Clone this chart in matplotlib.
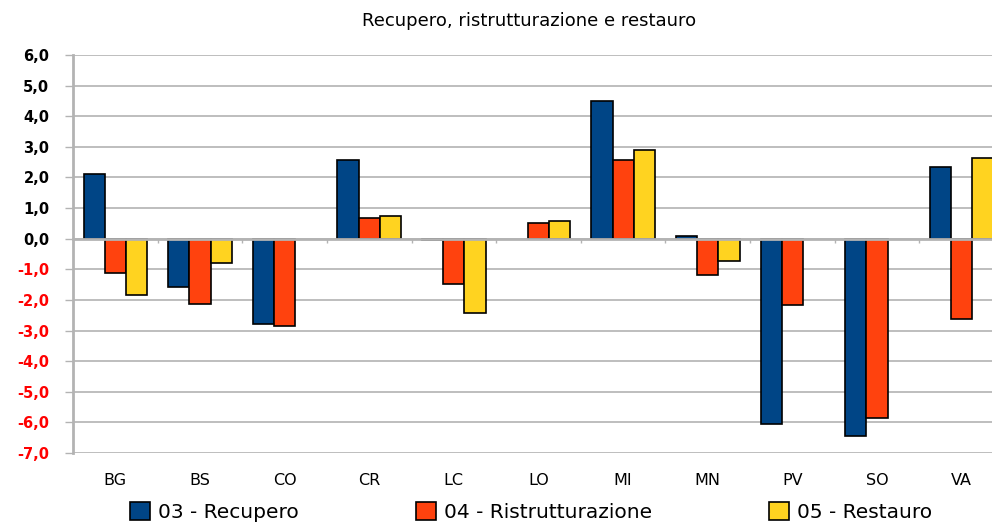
import numpy as np
import matplotlib
matplotlib.use("Agg")
import matplotlib.pyplot as plt
from matplotlib.ticker import FuncFormatter, FixedLocator

# Variazioni per provincia
PROVINCE = ["BG", "BS", "CO", "CR", "LC", "LO", "MI", "MN", "PV", "SO", "VA"]
RECUPERO = [2.12, -1.57, -2.80, 2.58, -0.05, 0.0, 4.51, 0.08, -6.06, -6.46, 2.33]
RISTRUTTURAZIONE = [-1.11, -2.13, -2.85, 0.66, -1.48, 0.50, 2.58, -1.17, -2.16, -5.85, -2.63]
RESTAURO = [-1.85, -0.80, 0.0, 0.75, -2.43, 0.57, 2.89, -0.72, 0.0, 0.0, 2.64]
SERIE = ["03 - Recupero", "04 - Ristrutturazione", "05 - Restauro"]
COLORI = ["#004586", "#ff420e", "#ffd320"]
GRIGIO = "#b3b3b3"

fig = plt.figure(figsize=(9.92, 5.24), dpi=100)
fig.patch.set_facecolor("white")
ax = fig.add_axes([0.0736, 0.1355, 0.9385, 0.7595])

x = np.arange(len(PROVINCE))
w = 0.25
handles = []
for k, (vals, col) in enumerate(zip([RECUPERO, RISTRUTTURAZIONE, RESTAURO], COLORI)):
    b = ax.bar(x + (k - 1) * w, vals, width=w, color=col, edgecolor="black",
               linewidth=1.2, zorder=3, label=SERIE[k])
    # nessun bordo per i valori nulli
    for rect, v in zip(b, vals):
        if v == 0:
            rect.set_edgecolor("none")
    handles.append(b)

ax.set_xlim(-0.5, len(PROVINCE) - 0.5)
ax.set_ylim(-7, 6)
ax.set_yticks(np.arange(-7, 7, 1))
ax.yaxis.set_major_formatter(FuncFormatter(lambda v, p: f"{v:.1f}".replace(".", ",")))
ax.grid(True, axis="y", color=GRIGIO, linewidth=1.2, zorder=0)
ax.set_axisbelow(True)

ax.spines["top"].set_visible(False)
ax.spines["right"].set_visible(False)
ax.spines["left"].set_color(GRIGIO)
ax.spines["left"].set_linewidth(2)
ax.spines["bottom"].set_position(("data", 0))
ax.spines["bottom"].set_color(GRIGIO)
ax.spines["bottom"].set_linewidth(2)
ax.spines["bottom"].set_zorder(4)

ax.tick_params(axis="y", direction="out", length=6, width=1, color=GRIGIO, pad=11,
               labelsize=10.5)
for lab, v in zip(ax.get_yticklabels(), ax.get_yticks()):
    lab.set_fontweight("bold")
    lab.set_color("red" if v < 0 else "black")

# tacche tra le categorie sulla linea dello zero
ax.set_xticks([])
ax.xaxis.set_minor_locator(FixedLocator(x[:-1] + 0.5))
ax.tick_params(axis="x", which="minor", direction="out", length=3, width=1, color=GRIGIO)

for i, nome in enumerate(PROVINCE):
    ax.text(x[i], -0.07, nome, transform=ax.get_xaxis_transform(),
            ha="center", va="center", fontsize=11.5)

fig.text(529 / 992, 1 - 21 / 524, "Recupero, ristrutturazione e restauro",
         ha="center", va="center", fontsize=13)

fig.legend(handles=handles, labels=SERIE, loc="center",
           bbox_to_anchor=(531 / 992, 1 - 512 / 524), ncol=3, frameon=False,
           fontsize=14.5, handlelength=1.0, handleheight=1.0, handletextpad=0.4,
           columnspacing=5.8, borderpad=0)

fig.savefig("out.png", dpi=100)
